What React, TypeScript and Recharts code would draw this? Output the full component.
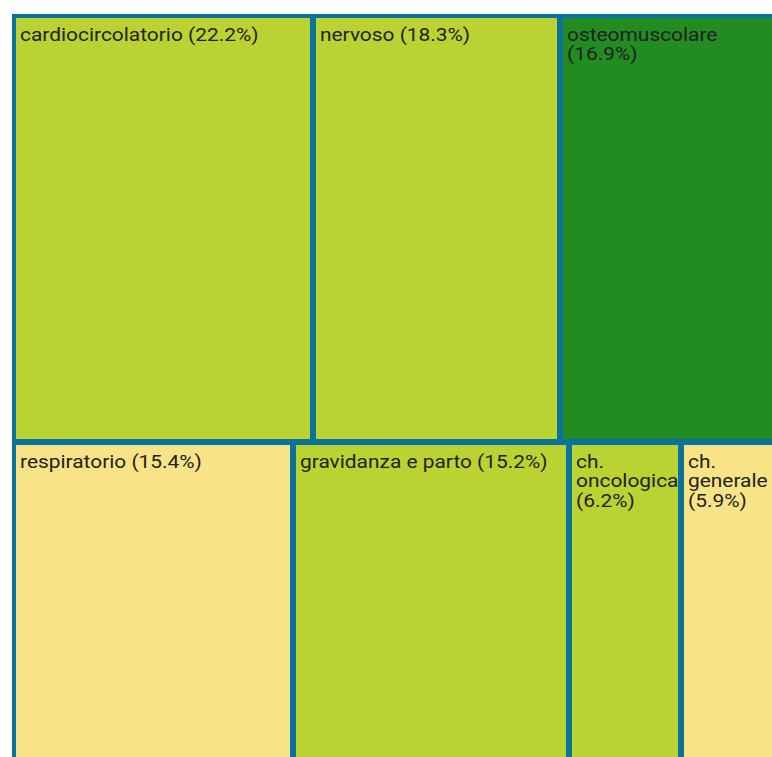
import { Treemap } from 'recharts';

const categories = [
  'cardiocircolatorio',
  'nervoso',
  'osteomuscolare',
  'respiratorio',
  'gravidanza e parto',
  'ch. oncologica',
  'ch. generale',
];
const shares = [22.2, 18.3, 16.9, 15.4, 15.2, 6.2, 5.9];

const cellColors = ['#bad232', '#bad232', '#228b22', '#f9e387', '#bad232', '#bad232', '#f9e387'];

// nesting of the category indexes, so squarify cuts rows/columns the way the original does
const grouping: any[] = [[[0, 1], 2], [3, [[4, 5], 6]]];

const BORDER = '#0a729b';
const FONT_SIZE = 19;
const STRETCH = 1.1; // the original labels are a bit wider than plain Roboto
const LINE_HEIGHT = 20;

const buildNode = (g: any, key: string): any =>
  typeof g === 'number'
    ? { name: categories[g], size: shares[g], color: cellColors[g] }
    : { name: key, children: g.map((c: any, i: number) => buildNode(c, `${key}-${i}`)) };

const treeData = grouping.map((g, i) => buildNode(g, `g${i}`));

let ctx: CanvasRenderingContext2D | null = null;
const measure = (s: string) => {
  if (!ctx) ctx = document.createElement('canvas').getContext('2d');
  if (!ctx) return s.length * 10;
  ctx.font = `${FONT_SIZE}px Roboto`;
  return ctx.measureText(s).width * STRETCH;
};

const wrapLabel = (text: string, maxWidth: number) => {
  const lines: string[] = [];
  let line = '';
  text.split(' ').forEach((w) => {
    const next = line ? `${line} ${w}` : w;
    if (line && measure(next) > maxWidth) {
      lines.push(line);
      line = w;
    } else {
      line = next;
    }
  });
  if (line) lines.push(line);
  return lines;
};

const renderCell = (props: any) => {
  const { x, y, width, height, name, size, color, children } = props;
  if (children && children.length) return null;
  const lines = wrapLabel(`${name} (${size.toFixed(1)}%)`, width - 14);
  return (
    <g>
      <rect x={x + 3} y={y + 3} width={width - 6} height={height - 6} fill={color} />
      <text
        transform={`translate(${x + 7} ${y + 25.5}) scale(${STRETCH} 1)`}
        fontFamily="Roboto"
        fontSize={FONT_SIZE}
        fill="#222"
      >
        {lines.map((l, i) => (
          <tspan key={i} x={0} dy={i === 0 ? 0 : LINE_HEIGHT}>
            {l}
          </tspan>
        ))}
      </text>
    </g>
  );
};

export default function App() {
  return (
    <div
      style={{
        position: 'absolute',
        left: 12,
        top: 14,
        width: 760,
        height: 743,
        overflow: 'hidden',
        background: BORDER,
      }}
    >
      <div style={{ position: 'absolute', left: 1, top: 1 }}>
        <Treemap
          width={775}
          height={745}
          data={treeData}
          dataKey="size"
          aspectRatio={1.3}
          type="flat"
          isAnimationActive={false}
          content={renderCell}
        />
      </div>
    </div>
  );
}
